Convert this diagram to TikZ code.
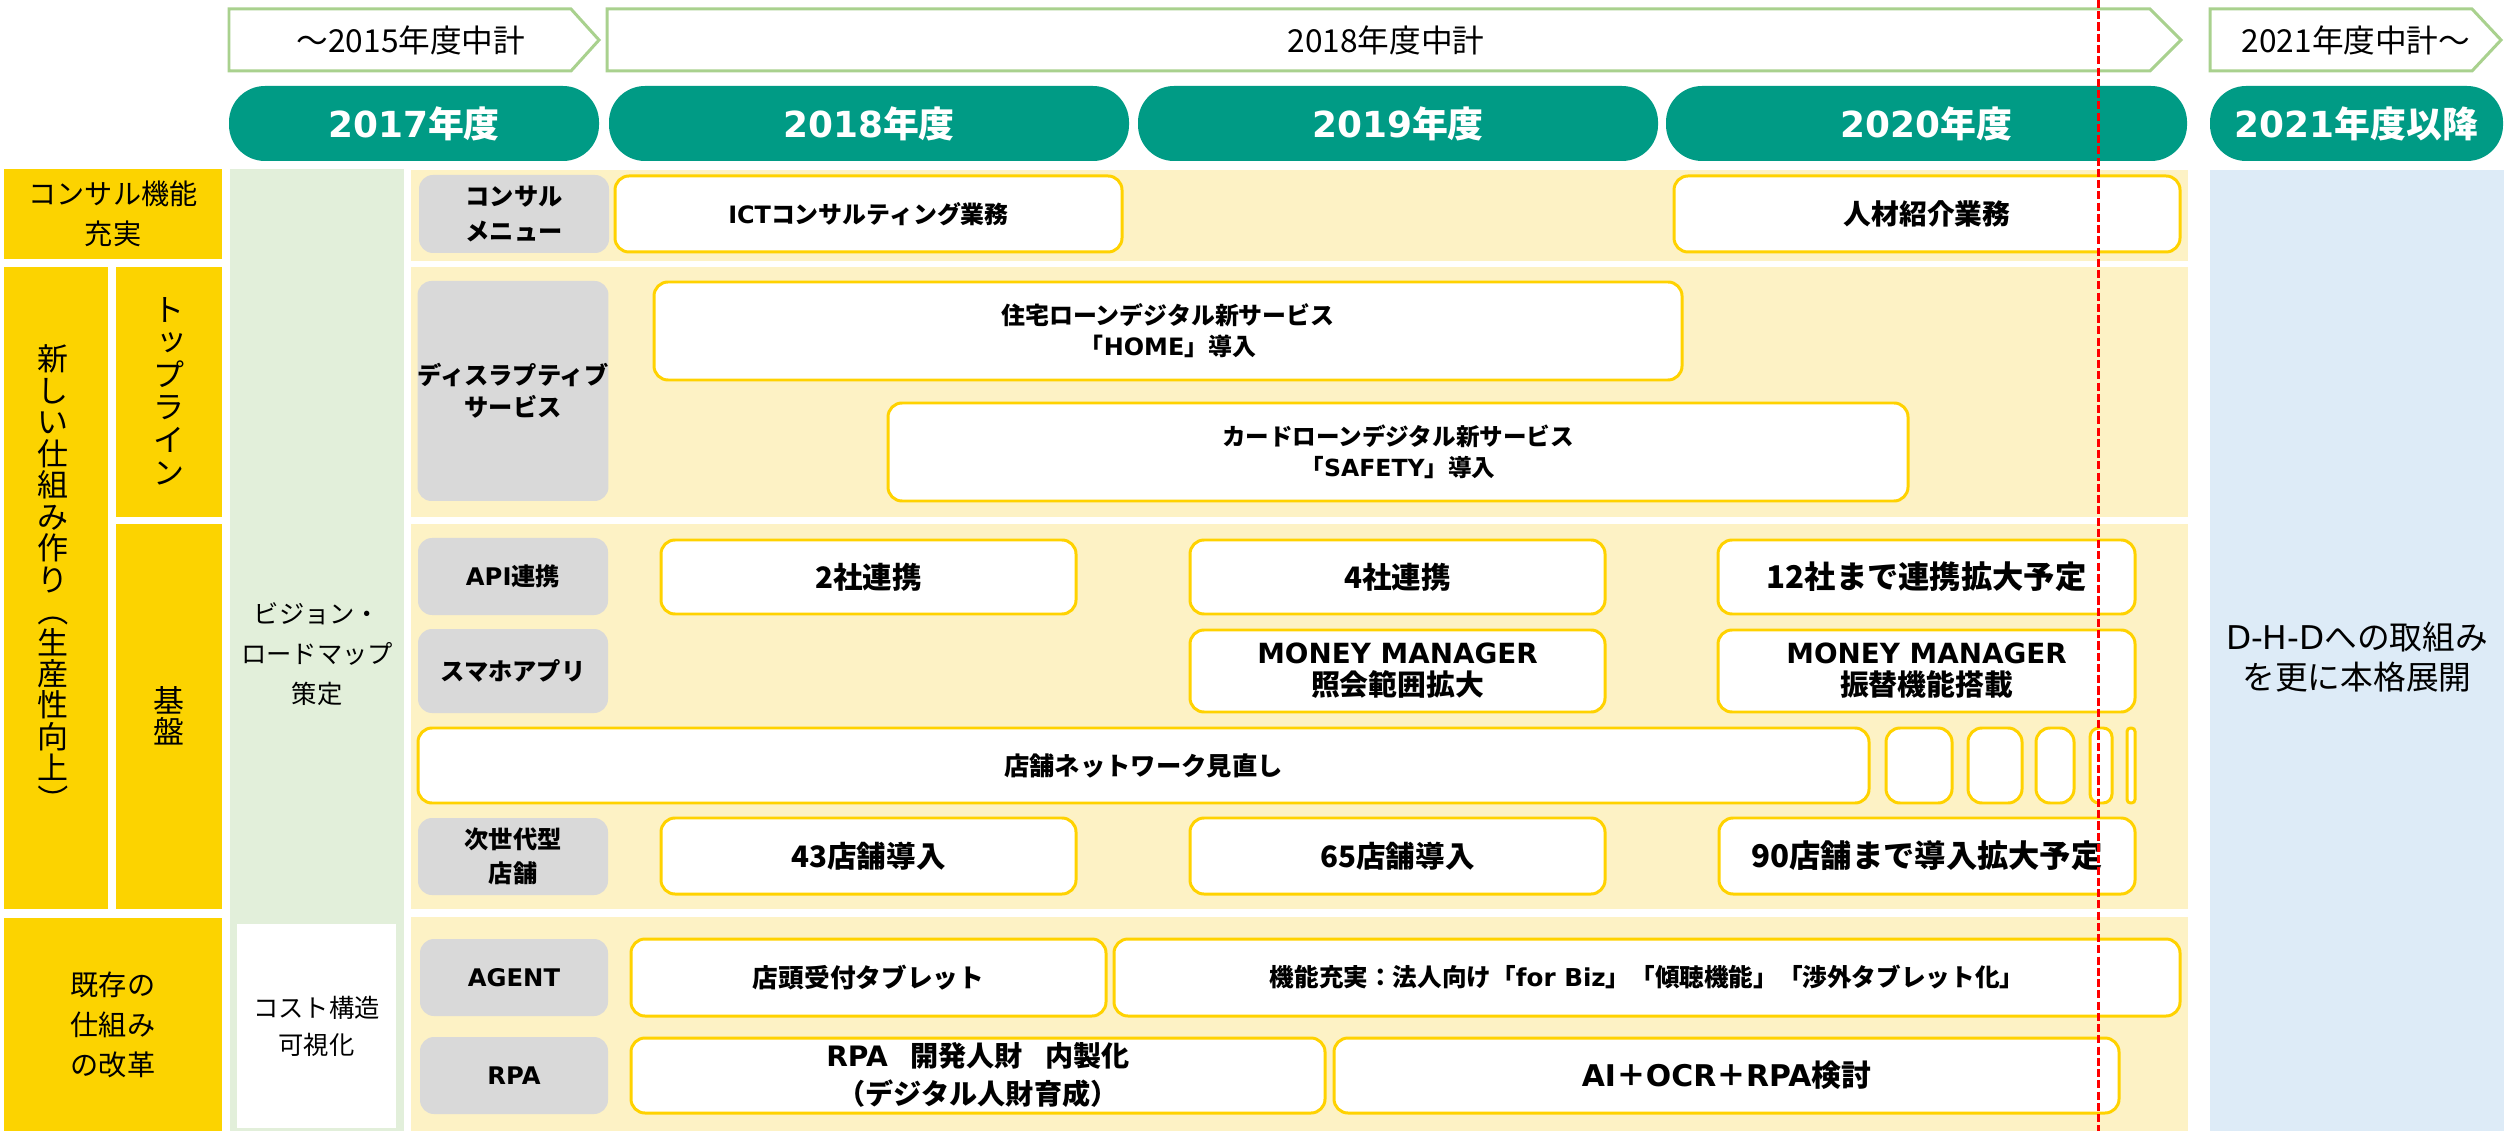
\documentclass[tikz,border=0pt]{standalone}
\usepackage{fontspec}
\usepackage{graphicx}
\setmainfont{Noto Sans CJK JP}
\newfontfamily\dvsans{DejaVu Sans}
\newcommand\lat[1]{{\dvsans #1}}
\newcommand\vpl{\rotatebox[origin=c]{-90}{（}}
\newcommand\vpr{\rotatebox[origin=c]{-90}{）}}
\definecolor{tealc}{RGB}{0,155,133}
\definecolor{ygold}{RGB}{252,211,0}
\definecolor{ylight}{RGB}{253,242,197}
\definecolor{gbg}{RGB}{217,217,217}
\definecolor{greenbg}{RGB}{226,239,218}
\definecolor{bluebg}{RGB}{221,235,247}
\definecolor{garrow}{RGB}{169,209,142}
\definecolor{ybord}{RGB}{255,210,0}
\newcommand\fs[2]{\fontsize{#1pt}{#2pt}\selectfont}
\newcommand\bx[7]{\node[#6, minimum width={(#4-#2)*0.01cm}, minimum height={(#5-#3)*0.01cm}] (#1) at ({(#2+#4)/2},{(#3+#5)/2}) {#7};}
\tikzset{
  base/.style={inner sep=0pt, outer sep=0pt, align=center, text=black},
  ybox/.style={base, fill=ygold, font=\fs{8}{11.4}},
  vtxt/.style={base, font=\fs{8.8}{8.95}},
  panel/.style={base, fill=ylight},
  gbox/.style={base, fill=gbg, rounded corners=0.14cm, font=\bfseries\fs{6.9}{9.8}},
  wbox/.style={base, fill=white, draw=ybord, line width=0.85pt, rounded corners=0.14cm, font=\bfseries\fs{7.4}{9.6}},
  hdr/.style={base, fill=tealc, rounded corners=0.36cm, text=white, font=\bfseries\fs{10.2}{12}},
  arrowline/.style={draw=garrow, fill=white, line width=0.85pt, line join=miter},
  arrowtxt/.style={base, font=\fs{9}{10}},
  redline/.style={draw=red, line width=0.85pt, dash pattern=on 2.3pt off 0.9pt}
}
\begin{document}
\begin{tikzpicture}[x=0.01cm,y=-0.01cm]
\useasboundingbox (0,0) rectangle (2504,1131);
\fill[white] (0,0) rectangle (2504,1131);
% top arrows
\draw[arrowline] (229,9) -- (571,9) -- (599,40) -- (571,71) -- (229,71) -- cycle;
\node[arrowtxt] (a1) at (411,40) {～2015年度中計};
\draw[arrowline] (607,9) -- (2150,9) -- (2181,40) -- (2150,71) -- (607,71) -- cycle;
\node[arrowtxt] (a2) at (1386,40) {2018年度中計};
\draw[arrowline] (2210,9) -- (2472,9) -- (2501,40) -- (2472,71) -- (2210,71) -- cycle;
\node[arrowtxt] (a3) at (2356,40) {2021年度中計～};
% year headers
\bx{h17}{229}{86}{599}{161}{hdr}{\lat{2017}年度}
\bx{h18}{609}{86}{1129}{161}{hdr}{\lat{2018}年度}
\bx{h19}{1138}{86}{1658}{161}{hdr}{\lat{2019}年度}
\bx{h20}{1666}{86}{2187}{161}{hdr}{\lat{2020}年度}
\bx{h21}{2210}{86}{2503}{161}{hdr}{\lat{2021}年度以降}
% left yellow
\bx{la}{4}{169}{222}{259}{ybox}{コンサル機能\\充実}
\bx{lb}{4}{267}{108}{909}{ybox}{}
\node[vtxt] (lbt) at (53,580) {新\\し\\い\\仕\\組\\み\\作\\り\\\vpl\\生\\産\\性\\向\\上\\\vpr};
\bx{lc}{116}{267}{222}{517}{ybox}{}
\node[vtxt, font=\fs{8.8}{9.25}] (lct) at (169,391) {ト\\\raisebox{0.12em}{\hspace{0.2em}ッ}\\プ\\ラ\\イ\\ン};
\bx{ld}{116}{524}{222}{909}{ybox}{}
\node[vtxt] (ldt) at (169,716) {基\\盤};
\bx{le}{4}{918}{222}{1131}{ybox}{既存の\\仕組み\\の改革}
% green column
\bx{gc}{230}{169}{404}{1131}{base, fill=greenbg}{}
\node[base, font=\fs{7.2}{11.3}] (gt) at (317,654) {ビジョン・\\ロードマップ\\策定};
\bx{gw}{237}{924}{396}{1128}{base, fill=white, font=\fs{7.2}{10.5}}{コスト構造\\可視化}
% panels
\bx{p1}{411}{170}{2188}{261}{panel}{}
\bx{p2}{411}{267}{2188}{517}{panel}{}
\bx{p3}{411}{524}{2188}{909}{panel}{}
\bx{p4}{411}{917}{2188}{1131}{panel}{}
% blue column
\bx{bc}{2210}{170}{2504}{1131}{base, fill=bluebg}{}
\node[base, font=\fs{9.3}{11.6}] (bt) at (2357,657) {\lat{D-H-D}への取組み\\を更に本格展開};
% gray labels
\bx{g1}{419}{175}{609}{253}{gbox}{コンサル\\メニュー}
\bx{g2}{418}{281}{608}{501}{gbox, font=\bfseries\fs{6.9}{9.1}}{ディスラプティブ\\サービス}
\bx{g3}{418}{538}{608}{615}{gbox}{\lat{API}連携}
\bx{g4}{418}{629}{608}{713}{gbox}{スマホアプリ}
\bx{g5}{418}{818}{608}{895}{gbox}{次世代型\\店舗}
\bx{g6}{420}{939}{608}{1016}{gbox}{\lat{AGENT}}
\bx{g7}{420}{1037}{608}{1114}{gbox}{\lat{RPA}}
% white boxes
\bx{w1}{615}{176}{1122}{252}{wbox, font=\bfseries\fs{6.8}{9}}{\lat{ICT}コンサルティング業務}
\bx{w2}{1674}{176}{2180}{252}{wbox, font=\bfseries\fs{7.9}{9}}{人材紹介業務}
\bx{w3}{654}{282}{1682}{380}{wbox, font=\bfseries\fs{6.8}{8.8}}{住宅ローンデジタル新サービス\\「\lat{HOME}」導入}
\bx{w4}{888}{403}{1908}{501}{wbox, font=\bfseries\fs{6.7}{8.8}}{カードローンデジタル新サービス\\「\lat{SAFETY}」導入}
\bx{w5}{661}{540}{1076}{614}{wbox, font=\bfseries\fs{8.4}{9.6}}{2社連携}
\bx{w6}{1190}{540}{1605}{614}{wbox, font=\bfseries\fs{8.4}{9.6}}{4社連携}
\bx{w7}{1718}{540}{2135}{614}{wbox, font=\bfseries\fs{8.9}{9.6}}{12社まで連携拡大予定}
\bx{w8}{1190}{630}{1605}{712}{wbox, font=\bfseries\fs{8.2}{9.1}}{{\lat{\fs{7.9}{9.1}MONEY MANAGER}}\\照会範囲拡大}
\bx{w9}{1718}{630}{2135}{712}{wbox, font=\bfseries\fs{8.2}{9.1}}{{\lat{\fs{7.9}{9.1}MONEY MANAGER}}\\振替機能搭載}
\bx{w10}{418}{728}{1869}{803}{wbox, font=\bfseries\fs{7.2}{9}}{店舗ネットワーク見直し}
\bx{s1}{1886}{728}{1952}{803}{wbox}{}
\bx{s2}{1968}{728}{2022}{803}{wbox}{}
\bx{s3}{2036}{728}{2074}{803}{wbox}{}
\bx{s4}{2090}{728}{2112}{803}{wbox, rounded corners=0.09cm}{}
\bx{s5}{2127}{728}{2135}{803}{wbox, rounded corners=0.035cm}{}
\bx{w11}{661}{818}{1076}{894}{wbox, font=\bfseries\fs{8.4}{9.6}}{43店舗導入}
\bx{w12}{1190}{818}{1605}{894}{wbox, font=\bfseries\fs{8.4}{9.6}}{65店舗導入}
\bx{w13}{1719}{818}{2135}{894}{wbox, font=\bfseries\fs{8.9}{9.6}}{90店舗まで導入拡大予定}
\bx{w14}{631}{939}{1106}{1016}{wbox, font=\bfseries\fs{7.3}{9}}{店頭受付タブレット}
\bx{w15}{1114}{939}{2180}{1016}{wbox, font=\bfseries\fs{7.0}{9}}{機能充実：法人向け「\lat{for Biz}」「傾聴機能」「渉外タブレット化」}
\bx{w16}{631}{1038}{1325}{1113}{wbox, font=\bfseries\fs{8.0}{10.8}}{\lat{RPA}\hspace{0.8em}開発人財\hspace{0.8em}内製化\\（デジタル人財育成）}
\bx{w17}{1334}{1038}{2119}{1113}{wbox, font=\bfseries\fs{8.5}{9}}{\lat{AI}＋\lat{OCR}＋\lat{RPA}検討}
% red dashed line
\coordinate (rt) at (2098,0);
\coordinate (rb) at (2098,1131);
\draw[redline] (rt) -- (rb);
\end{tikzpicture}
\end{document}
